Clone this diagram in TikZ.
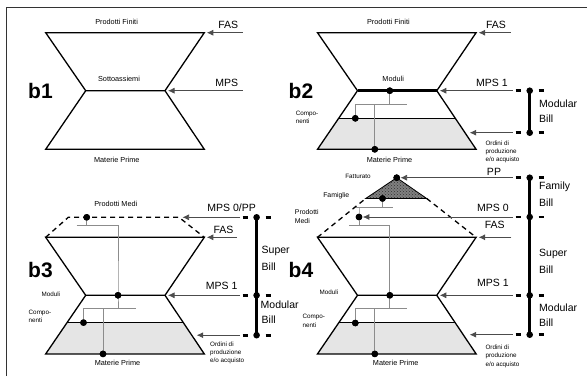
\documentclass[tikz,border=0pt]{standalone}
\usepackage{fontspec}
\setmainfont{Liberation Sans}
\usetikzlibrary{arrows.meta,patterns}
\tikzset{
 hgl/.style={line width=1.3pt, line join=miter},
 compl/.style={line width=1pt},
 modthick/.style={line width=2.6pt},
 conn/.style={draw=black!45, line width=0.8pt},
 dotn/.style={circle, fill=black, inner sep=0pt, minimum size=6.6pt},
 arr/.style={draw=black!70, line width=0.7pt, -{Latex[length=6.5pt,width=6pt]}},
 barl/.style={line width=2.8pt},
 tickl/.style={line width=2.8pt, dash pattern=on 5.7pt off 17.3pt},
 dashl/.style={line width=1.3pt, dash pattern=on 5pt off 4pt},
 shadearea/.style={fill=black!10},
 lS/.style={font=\fontsize{6.3}{8.1}\selectfont, inner sep=0pt, align=left},
 lSM/.style={font=\fontsize{6.9}{8.5}\selectfont, inner sep=0pt, align=left},
 lM/.style={font=\fontsize{7.3}{8.5}\selectfont, inner sep=0pt},
 lL/.style={font=\fontsize{10.5}{12}\selectfont, inner sep=0pt},
 lB/.style={font=\fontsize{21}{24}\selectfont\bfseries, inner sep=0pt},
}
\newcommand{\hgcoords}[1]{%
 \coordinate (#1tl) at (45.7,32.7);
 \coordinate (#1tr) at (204.3,32.7);
 \coordinate (#1ml) at (85.7,90.7);
 \coordinate (#1mr) at (165,90.7);
 \coordinate (#1bl) at (45.7,149.3);
 \coordinate (#1br) at (204.3,149.3);
 \coordinate (#1cl) at (66.9,118.3);
 \coordinate (#1cr) at (183.5,118.3);
}
\begin{document}
\begin{tikzpicture}[x=1pt,y=-1pt]
\useasboundingbox (0,0) rectangle (587,376);
% frame
\coordinate (fA) at (6,376); \coordinate (fB) at (6,7); \coordinate (fC) at (587,7);
\draw[line width=1pt, black!80] (fA) -- (fB) -- (fC);

% ================= b1 =================
\begin{scope}
\hgcoords{a}
\draw[hgl] (atl)--(atr)--(amr)--(abr)--(abl)--(aml)--cycle (aml)--(amr);
\node[lM] (aPF) at (116.6,21.7) {Prodotti Finiti};
\node[lM] (aSA) at (119,79.3) {Sottoassiemi};
\node[lM] (aMP) at (116.8,160.3) {Materie Prime};
\node[lB] (ab) at (40.5,90.7) {b1};
\node[lL] (aFAS) at (228.3,25) {FAS};
\node[lL] (aMPS) at (226.7,82.7) {MPS};
\coordinate (aFASs) at (242.7,32.7);
\coordinate (aMPSs) at (242.7,90.7);
\draw[arr, shorten >=2.5pt] (aFASs) -- (atr);
\draw[arr, shorten >=3pt] (aMPSs) -- (amr);
\end{scope}

% ================= b2 =================
\begin{scope}[shift={(271.8,0)}]
\hgcoords{b}
\fill[shadearea] (bcl)--(bcr)--(bbr)--(bbl)--cycle;
\draw[hgl] (btl)--(btr)--(bmr)--(bbr)--(bbl)--(bml)--cycle;
\draw[modthick] (bml)--(bmr);
\draw[compl] (bcl)--(bcr);
\node[dotn] (bmd) at (118,90.7) {};
\node[dotn] (bcd) at (83.5,118.3) {};
\node[dotn] (bbd) at (103,149.3) {};
\coordinate (bj1) at (118,104.3);
\coordinate (bjL) at (83.5,104.3);
\coordinate (bjR) at (135,104.3);
\coordinate (bj2) at (103,104.3);
\draw[conn] (bmd.center)--(bj1) (bjL)--(bjR) (bjL)--(bcd.center) (bj2)--(bbd.center);
\node[dotn] (bmd2) at (bmd) {};
\node[dotn] (bcd2) at (bcd) {};
\node[dotn] (bbd2) at (bbd) {};
\node[lM] (bPF) at (116.6,21.7) {Prodotti Finiti};
\node[lM] (bMo) at (121.4,79.3) {Moduli};
\node[lS, anchor=west] (bCo) at (23.9,117.3) {Compo-\\nenti};
\node[lM] (bMP) at (117.7,160.3) {Materie Prime};
\node[lB] (bb) at (29.2,90.7) {b2};
\node[lS, anchor=west] (bOr) at (213.5,151.5) {Ordini di\\produzione\\e/o acquisto};
\node[lL] (bFAS) at (224.2,25) {FAS};
\node[lL] (bMPS) at (220.2,83) {MPS 1};
\coordinate (bFASs) at (238.9,32.7);
\coordinate (bMPSs) at (241,90.7);
\coordinate (bORs) at (241,132.7);
\coordinate (bORt) at (197.9,132.7);
\draw[arr, shorten >=2.5pt] (bFASs) -- (btr);
\draw[arr, shorten >=3pt] (bMPSs) -- (bmr);
\draw[arr] (bORs) -- (bORt);
\node[dotn] (bB1) at (257.9,90.7) {};
\node[dotn] (bB2) at (257.9,132.7) {};
\draw[barl] (bB1.center)--(bB2.center);
\coordinate (bt1a) at (243.9,90.7); \coordinate (bt1b) at (272.6,90.7);
\coordinate (bt2a) at (243.9,132.7); \coordinate (bt2b) at (272.6,132.7);
\draw[tickl] (bt1a)--(bt1b) (bt2a)--(bt2b);
\node[lL, anchor=west] (bMod) at (267.2,104) {Modular};
\node[lL, anchor=west] (bBill) at (267.2,119) {Bill};
\end{scope}

% ================= b3 =================
\begin{scope}[shift={(0,204.6)}]
\hgcoords{c}
\fill[shadearea] (ccl)--(ccr)--(cbr)--(cbl)--cycle;
\draw[hgl] (ctl)--(ctr)--(cmr)--(cbr)--(cbl)--(cml)--cycle (cml)--(cmr);
\draw[compl] (ccl)--(ccr);
\coordinate (cd1) at (68.3,12.7);
\coordinate (cd2) at (179,12.7);
\draw[dashl] (ctl)--(cd1)--(cd2)--(ctr);
\node[dotn] (cpm) at (86.7,12.7) {};
\node[dotn] (cmd) at (118,90.7) {};
\node[dotn] (ccd) at (83.5,118) {};
\node[dotn] (cbd) at (103,149.3) {};
\coordinate (cj0) at (86.7,20.7);
\coordinate (cjA) at (76.7,20.7);
\coordinate (cjB) at (118,20.7);
\coordinate (cj1) at (118,103.5);
\coordinate (cjL) at (83.5,103.5);
\coordinate (cjR) at (135.5,103.5);
\coordinate (cj2) at (103,103.5);
\draw[conn] (cpm.center)--(cj0) (cjA)--(cjB)--(cmd.center)--(cj1) (cjL)--(cjR) (cjL)--(ccd.center) (cj2)--(cbd.center);
\node[dotn] (cpm2) at (cpm) {};
\node[dotn] (cmd2) at (cmd) {};
\node[dotn] (ccd2) at (ccd) {};
\node[dotn] (cbd2) at (cbd) {};
\node[lM] (cPM) at (115.8,-0.9) {Prodotti Medi};
\node[lS] (cMo) at (50.8,89.4) {Moduli};
\node[lS, anchor=west] (cCo) at (28.5,111.5) {Compo-\\nenti};
\node[lM] (cMP) at (117.5,158.3) {Materie Prime};
\node[lB] (cb) at (40.5,65.1) {b3};
\node[lS, anchor=west] (cOr) at (210,148.1) {Ordini di\\produzione\\e/o acquisto};
\node[lL] (cMPS0) at (231.7,3.6) {MPS 0/PP};
\node[lL] (cFAS) at (223.5,25.6) {FAS};
\node[lL] (cMPS1) at (221.7,81.7) {MPS 1};
\coordinate (cMPS0s) at (240,12.7);
\coordinate (cFASs) at (236.7,32.7);
\coordinate (cMPS1s) at (240,90.7);
\coordinate (cORs) at (240,130.6);
\coordinate (cORt) at (196.7,130.6);
\draw[arr, shorten >=3.5pt] (cMPS0s) -- (cd2);
\draw[arr, shorten >=2.5pt] (cFASs) -- (ctr);
\draw[arr, shorten >=3pt] (cMPS1s) -- (cmr);
\draw[arr] (cORs) -- (cORt);
\node[dotn] (cB1) at (256.6,12.7) {};
\node[dotn] (cB2) at (256.6,90.7) {};
\node[dotn] (cB3) at (256.6,130.6) {};
\draw[barl] (cB1.center)--(cB3.center);
\coordinate (ct1a) at (242.6,12.7); \coordinate (ct1b) at (271.3,12.7);
\coordinate (ct2a) at (242.6,90.7); \coordinate (ct2b) at (271.3,90.7);
\coordinate (ct3a) at (242.6,130.6); \coordinate (ct3b) at (271.3,130.6);
\draw[tickl] (ct1a)--(ct1b) (ct2a)--(ct2b) (ct3a)--(ct3b);
\node[lL, anchor=west] (cSup) at (261.5,46.1) {Super};
\node[lL, anchor=west] (cBill1) at (261.5,61.7) {Bill};
\node[lL, anchor=west] (cMod) at (260.5,100.3) {Modular};
\node[lL, anchor=west] (cBill2) at (261.5,115.1) {Bill};
\end{scope}

% ================= b4 =================
\begin{scope}[shift={(271.8,204.6)}]
\hgcoords{d}
\fill[shadearea] (dcl)--(dcr)--(dbr)--(dbl)--cycle;
\draw[hgl] (dtl)--(dtr)--(dmr)--(dbr)--(dbl)--(dml)--cycle (dml)--(dmr);
\draw[compl] (dcl)--(dcr);
\coordinate (dTa) at (124.9,-26.9);
\coordinate (dTl) at (93.9,-6.1);
\coordinate (dTr) at (154.9,-6.1);
\draw[line width=0.8pt, preaction={fill=black!50}, pattern=crosshatch dots, pattern color=black!80] (dTa)--(dTr)--(dTl)--cycle;
\draw[dashl] (dtl)--(dTl) (dTr)--(dtr);
\node[dotn] (dad) at (dTa) {};
\node[dotn] (dfd) at (110.7,-6.1) {};
\node[dotn] (dpm) at (87.2,12.4) {};
\node[dotn] (dmd) at (118,90.7) {};
\node[dotn] (dcd) at (83.5,118.4) {};
\node[dotn] (dbd) at (103,149.3) {};
\coordinate (dj0) at (110.7,2.7);
\coordinate (djA) at (84.2,2.7);
\coordinate (djB) at (121.5,2.7);
\coordinate (djC) at (87.2,2.7);
\coordinate (dj1) at (87.2,20.7);
\coordinate (djD) at (77.2,20.7);
\coordinate (djE) at (118,20.7);
\coordinate (dj2) at (118,103.5);
\coordinate (djF) at (83.5,103.5);
\coordinate (djG) at (135.5,103.5);
\coordinate (djH) at (103,103.5);
\draw[conn] (dfd.center)--(dj0) (djA)--(djB) (djC)--(dpm.center)--(dj1) (djD)--(djE)--(dmd.center)--(dj2) (djF)--(djG) (djF)--(dcd.center) (djH)--(dbd.center);
\node[dotn] (dad2) at (dad) {};
\node[dotn] (dfd2) at (dfd) {};
\node[dotn] (dpm2) at (dpm) {};
\node[dotn] (dmd2) at (dmd) {};
\node[dotn] (dcd2) at (dcd) {};
\node[dotn] (dbd2) at (dbd) {};
\node[lS] (dFat) at (86.2,-28.6) {Fatturato};
\node[lSM] (dFam) at (64.5,-9.3) {Famiglie};
\node[lSM, anchor=west] (dPM) at (22.9,11.7) {Prodotti\\Medi};
\node[lS] (dMo) at (57.2,87.4) {Moduli};
\node[lS, anchor=west] (dCo) at (30.5,116.2) {Compo-\\nenti};
\node[lM] (dMP) at (123.9,158.4) {Materie Prime};
\node[lB] (db) at (29.2,65.1) {b4};
\node[lS, anchor=west] (dOr) at (213.5,151.7) {Ordini di\\produzione\\e/o acquisto};
\node[lL] (dPP) at (222.2,-32.9) {PP};
\node[lL] (dMPS0) at (221.2,3.4) {MPS 0};
\node[lL] (dFAS) at (222.9,20.7) {FAS};
\node[lL] (dMPS1) at (221.2,78.4) {MPS 1};
\coordinate (dPPs) at (241,-26.9);
\coordinate (dMPS0s) at (241,12.4);
\coordinate (dFASs) at (239.5,32.7);
\coordinate (dMPS1s) at (241,90.7);
\coordinate (dORs) at (241,130.1);
\coordinate (dORt) at (197.9,130.1);
\draw[arr, shorten >=3.8pt] (dPPs) -- (dad.center);
\draw[arr, shorten >=3.8pt] (dMPS0s) -- (dpm.center);
\draw[arr, shorten >=2.5pt] (dFASs) -- (dtr);
\draw[arr, shorten >=3pt] (dMPS1s) -- (dmr);
\draw[arr] (dORs) -- (dORt);
\node[dotn] (dB1) at (257.9,-26.9) {};
\node[dotn] (dB2) at (257.9,12.4) {};
\node[dotn] (dB3) at (257.9,90.7) {};
\node[dotn] (dB4) at (257.9,130.1) {};
\draw[barl] (dB1.center)--(dB4.center);
\coordinate (dt1a) at (243.9,-26.9); \coordinate (dt1b) at (272.6,-26.9);
\coordinate (dt2a) at (243.9,12.4); \coordinate (dt2b) at (272.6,12.4);
\coordinate (dt3a) at (243.9,90.7); \coordinate (dt3b) at (272.6,90.7);
\coordinate (dt4a) at (243.9,130.1); \coordinate (dt4b) at (272.6,130.1);
\draw[tickl] (dt1a)--(dt1b) (dt2a)--(dt2b) (dt3a)--(dt3b) (dt4a)--(dt4b);
\node[lL, anchor=west] (dFamL) at (267.2,-17.9) {Family};
\node[lL, anchor=west] (dBill1) at (267.2,-1.6) {Bill};
\node[lL, anchor=west] (dSup) at (267.2,49.4) {Super};
\node[lL, anchor=west] (dBill2) at (267.2,65.1) {Bill};
\node[lL, anchor=west] (dMod) at (267.2,102.7) {Modular};
\node[lL, anchor=west] (dBill3) at (267.2,118.4) {Bill};
\end{scope}
\end{tikzpicture}
\end{document}
